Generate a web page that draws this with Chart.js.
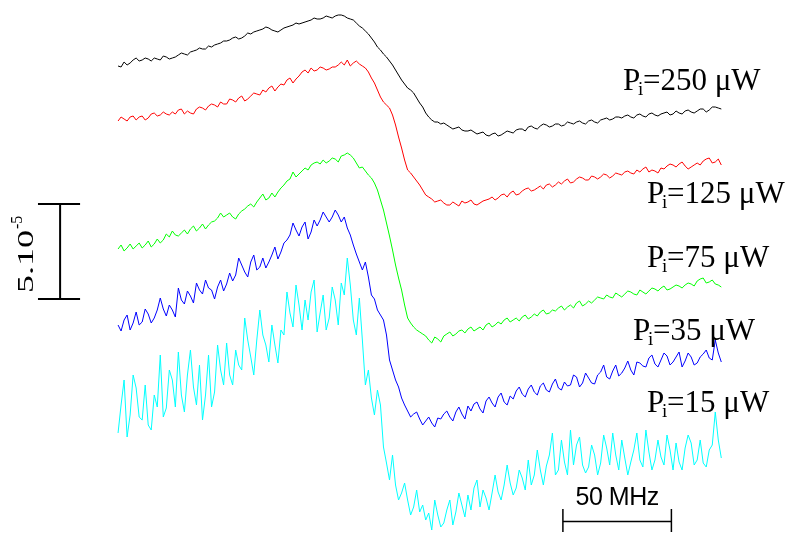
<!DOCTYPE html>
<html>
<head>
<meta charset="utf-8">
<script src="https://cdn.jsdelivr.net/npm/chart.js@4/dist/chart.umd.min.js"></script>
<style>
  html, body { margin: 0; padding: 0; background: #fff; }
  canvas { display: block; }
</style>
</head>
<body>
<canvas id="chart" width="794" height="535"></canvas>
<script>
// full sweep width of the recorded traces (MHz)
const sweepSpan = 278

// signal traces (arb. units, each trace shifted vertically as in the figure)
const trace250 = [
  469, 468, 473, 470, 472, 475, 477, 474, 475, 477, 476, 474, 477, 476, 475, 479, 478, 476, 477, 478,
  480, 482, 481, 480, 483, 484, 485, 487, 486, 486, 489, 488, 490, 491, 492, 494, 494, 495, 497, 498,
  496, 497, 499, 502, 501, 503, 504, 505, 506, 508, 507, 505, 504, 503, 505, 507, 508, 509, 510, 512,
  511, 512, 513, 514, 515, 517, 516, 516, 517, 519, 518, 517, 519, 520, 520, 519, 517, 516, 515, 512,
  509, 507, 504, 501, 497, 493, 488, 485, 481, 478, 474, 470, 465, 460, 455, 451, 447, 445, 442, 437,
  432, 428, 422, 418, 415, 413, 413, 411, 412, 410, 408, 406, 407, 408, 405, 404, 404, 405, 403, 401,
  402, 403, 400, 399, 401, 402, 399, 400, 402, 404, 403, 402, 405, 406, 406, 404, 408, 409, 407, 406,
  409, 411, 410, 408, 409, 411, 411, 409, 410, 413, 412, 411, 413, 414, 412, 411, 414, 415, 413, 412,
  415, 416, 417, 415, 416, 418, 418, 417, 419, 420, 418, 417, 420, 421, 419, 418, 421, 422, 420, 419,
  421, 422, 423, 420, 421, 424, 422, 421, 424, 425, 423, 422, 424, 426, 426, 423, 425, 428, 428, 427,
  426
]
const trace125 = [
  414, 418, 416, 414, 418, 419, 415, 418, 419, 415, 417, 421, 422, 419, 420, 423, 421, 420, 423, 421,
  425, 426, 421, 424, 422, 421, 426, 428, 427, 425, 429, 431, 430, 428, 433, 431, 431, 436, 435, 433,
  437, 439, 434, 436, 439, 442, 441, 440, 445, 443, 447, 449, 444, 448, 451, 450, 455, 457, 452, 456,
  459, 463, 465, 462, 467, 464, 465, 468, 467, 465, 466, 468, 468, 470, 473, 470, 475, 469, 472, 474,
  471, 469, 467, 463, 457, 452, 445, 438, 433, 430, 427, 420, 410, 398, 387, 375, 365, 362, 358, 354,
  350, 345, 340, 338, 336, 333, 334, 335, 332, 330, 330, 333, 331, 329, 334, 332, 333, 335, 331, 330,
  332, 334, 335, 336, 338, 335, 337, 340, 341, 338, 342, 344, 340, 341, 344, 346, 347, 344, 345, 347,
  349, 346, 350, 351, 348, 350, 353, 351, 354, 356, 352, 353, 356, 358, 357, 355, 355, 359, 358, 356,
  358, 361, 360, 357, 359, 362, 361, 360, 363, 364, 362, 361, 365, 363, 366, 368, 363, 365, 364, 362,
  367, 366, 369, 371, 370, 368, 371, 373, 369, 366, 368, 370, 372, 370, 374, 376, 377, 372, 373, 376,
  370
]
const trace75 = [
  286, 290, 284, 287, 291, 286, 289, 292, 287, 290, 294, 288, 291, 296, 292, 295, 301, 298, 304, 300,
  299, 302, 305, 301, 306, 309, 304, 307, 311, 306, 310, 313, 314, 317, 322, 318, 320, 322, 318, 316,
  321, 324, 326, 329, 331, 328, 333, 337, 341, 335, 337, 342, 338, 343, 347, 350, 354, 356, 363, 358,
  361, 364, 367, 365, 370, 372, 373, 371, 375, 372, 374, 377, 376, 373, 379, 380, 382, 380, 377, 372,
  367, 368, 364, 360, 357, 352, 345, 335, 325, 312, 299, 285, 270, 257, 245, 230, 217, 212, 208, 205,
  203, 201, 199, 195, 192, 198, 196, 193, 199, 201, 203, 199, 201, 204, 205, 202, 206, 208, 204, 206,
  208, 205, 210, 212, 208, 210, 213, 211, 215, 217, 213, 215, 217, 214, 218, 220, 216, 218, 221, 219,
  223, 225, 221, 222, 225, 224, 227, 229, 225, 228, 230, 227, 232, 234, 229, 231, 234, 232, 235, 238,
  237, 236, 240, 238, 237, 242, 240, 238, 241, 244, 243, 241, 240, 245, 243, 241, 244, 247, 246, 244,
  247, 249, 245, 246, 248, 250, 249, 247, 250, 252, 251, 249, 254, 256, 257, 252, 253, 255, 251, 250,
  248
]
const trace35 = [
  210, 204, 215, 220, 205, 212, 223, 210, 213, 226, 221, 212, 217, 225, 237, 226, 219, 230, 225, 218,
  247, 235, 231, 244, 239, 232, 252, 245, 241, 255, 247, 245, 236, 248, 255, 244, 251, 262, 254, 260,
  277, 270, 263, 258, 273, 280, 265, 268, 277, 267, 273, 280, 288, 276, 283, 292, 295, 300, 312, 305,
  299, 308, 313, 296, 303, 315, 309, 315, 323, 318, 313, 318, 325, 320, 313, 318, 307, 300, 290, 281,
  273, 265, 273, 258, 240, 236, 225, 220, 215, 200, 175, 165, 155, 148, 137, 130, 124, 118, 121, 123,
  116, 110, 114, 118, 112, 108, 117, 116, 121, 124, 118, 114, 123, 128, 121, 116, 129, 124, 131, 133,
  126, 122, 134, 138, 132, 128, 138, 142, 133, 130, 139, 136, 144, 148, 141, 138, 146, 150, 143, 140,
  149, 152, 145, 143, 151, 156, 147, 145, 153, 149, 150, 160, 158, 148, 152, 162, 157, 152, 151, 160,
  163, 170, 158, 156, 164, 170, 159, 162, 167, 174, 165, 160, 173, 172, 169, 168, 177, 180, 171, 168,
  175, 182, 179, 170, 173, 178, 183, 168, 174, 182, 178, 170, 172, 178, 181, 185, 177, 175, 195, 182,
  173
]
const trace15 = [
  102, 130, 155, 98, 120, 160, 147, 118, 115, 150, 110, 105, 140, 128, 180, 118, 127, 165, 155, 128,
  183, 140, 123, 160, 185, 148, 130, 170, 115, 140, 180, 128, 143, 190, 165, 150, 192, 160, 150, 185,
  170, 165, 217, 195, 178, 160, 195, 225, 200, 190, 173, 210, 190, 172, 205, 200, 243, 222, 208, 250,
  230, 205, 235, 215, 243, 255, 203, 222, 240, 205, 217, 248, 235, 210, 252, 240, 277, 250, 215, 200,
  237, 195, 150, 165, 137, 120, 145, 130, 88, 72, 55, 80, 50, 35, 42, 52, 35, 20, 28, 45,
  23, 30, 15, 22, 5, 35, 20, 8, 12, 25, 35, 10, 23, 42, 30, 18, 40, 25, 47, 55,
  28, 45, 37, 25, 42, 60, 43, 35, 50, 70, 52, 40, 47, 65, 57, 45, 75, 50, 60, 85,
  65, 50, 69, 80, 102, 60, 65, 95, 73, 60, 105, 70, 90, 98, 70, 62, 68, 90, 80, 60,
  72, 100, 87, 70, 102, 80, 65, 95, 77, 60, 73, 85, 102, 75, 68, 105, 83, 65, 75, 95,
  78, 70, 100, 85, 65, 92, 73, 65, 87, 100, 92, 70, 75, 95, 72, 68, 85, 90, 123, 95,
  77
]

const powers = ["250", "125", "75", "35", "15"]
const traces = [trace250, trace125, trace75, trace35, trace15]
const colors = ["#000000", "#ff0000", "#00ff00", "#0000ff", "#00ffff"]

// where each "Pi=... µW" label sits (MHz, signal)
const labelAnchors = [[232.7, 445], [243.8, 332], [243.8, 268], [237.3, 195], [243.8, 123]]

// scale bars: 5.10^-5 in signal (96 units) and 50 MHz in frequency
const ampBar = { x: -26.7, from: 236, to: 331, capFrom: -36.9, capTo: -17.5 }
const freqBar = { from: 205, to: 255, y: 13.5, tickLow: 3, tickHigh: 26 }

const sweep = vals => vals.map((v, i) => ({ x: i * sweepSpan / (vals.length - 1), y: v }))

const seg = (pts, width) => ({
  data: pts.map(([x, y]) => ({ x, y })),
  borderColor: "#000",
  borderWidth: width,
  pointRadius: 0,
  borderCapStyle: "butt"
})

const datasets = traces.map((vals, k) => ({
  label: "Pi=" + powers[k] + " µW",
  data: sweep(vals),
  borderColor: colors[k],
  borderWidth: 1,
  pointRadius: 0,
  tension: 0
}))

datasets.push(
  seg([[ampBar.x, ampBar.from], [ampBar.x, ampBar.to]], 2),
  seg([[ampBar.capFrom, ampBar.from], [ampBar.capTo, ampBar.from]], 2),
  seg([[ampBar.capFrom, ampBar.to], [ampBar.capTo, ampBar.to]], 2),
  seg([[freqBar.from, freqBar.y], [freqBar.to, freqBar.y]], 1.5),
  seg([[freqBar.from, freqBar.tickLow], [freqBar.from, freqBar.tickHigh]], 1.5),
  seg([[freqBar.to, freqBar.tickLow], [freqBar.to, freqBar.tickHigh]], 1.5)
)

const serif = "'Liberation Serif', 'Times New Roman', serif"
const sans = "'Liberation Sans', Arial, sans-serif"

const textPlugin = {
  id: "figureText",
  afterDatasetsDraw(chart) {
    const { ctx, scales: { x, y } } = chart
    ctx.save()
    ctx.fillStyle = "#000"
    ctx.textBaseline = "alphabetic"
    ctx.textAlign = "left"

    labelAnchors.forEach(([fx, fy], k) => {
      const px = x.getPixelForValue(fx)
      const py = y.getPixelForValue(fy)
      ctx.font = "31px " + serif
      ctx.fillText("P", px, py)
      ctx.font = "19px " + serif
      ctx.fillText("i", px + 15, py + 5)
      ctx.font = "31px " + serif
      ctx.fillText("=" + powers[k] + " \u03bcW", px + 20, py)
    })

    // amplitude bar caption, rotated
    ctx.save()
    ctx.translate(x.getPixelForValue(-39.2), y.getPixelForValue(242))
    ctx.rotate(-Math.PI / 2)
    ctx.save()
    ctx.scale(1.5, 1)
    ctx.font = "24px " + serif
    ctx.fillText("5.10", 0, 0)
    const w = ctx.measureText("5.10").width * 1.5
    ctx.restore()
    ctx.font = "16px " + serif
    ctx.fillText("-5", w + 1, -11)
    ctx.restore()

    // frequency bar caption
    ctx.font = "25px " + sans
    ctx.letterSpacing = "-0.5px"
    ctx.textAlign = "center"
    ctx.fillText("50 MHz", x.getPixelForValue((freqBar.from + freqBar.to) / 2), y.getPixelForValue(30))
    ctx.restore()
  }
}

new Chart(document.getElementById("chart"), {
  type: "line",
  data: { datasets },
  options: {
    responsive: false,
    animation: false,
    events: [],
    layout: { padding: 0 },
    plugins: { legend: { display: false }, tooltip: { enabled: false } },
    scales: {
      x: { type: "linear", min: -54.4, max: 311.5, display: false },
      y: { type: "linear", min: 0, max: 535, display: false }
    }
  },
  plugins: [textPlugin]
})
</script>
</body>
</html>
